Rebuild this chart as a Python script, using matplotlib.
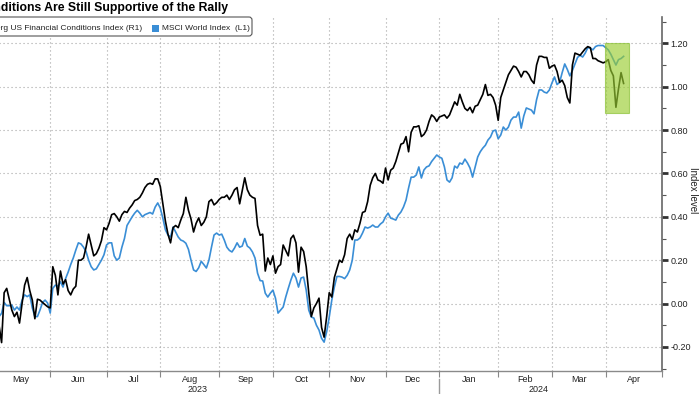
import numpy as np
import pandas as pd
import matplotlib
matplotlib.use("Agg")
import matplotlib.pyplot as plt
import matplotlib.transforms as mtransforms
from matplotlib.patches import Rectangle, FancyBboxPatch
from matplotlib.lines import Line2D
from matplotlib import font_manager as fm

# ---------------- data (daily, business days) ----------------
start_date = "2023-05-04"
title = "Financial Conditions Are Still Supportive of the Rally"
series_names = ["Bloomberg US Financial Conditions Index (R1)", "MSCI World Index  (L1)"]
y_label = "Index level"
y_ticks = [-0.2, 0.0, 0.2, 0.4, 0.6, 0.8, 1.0, 1.2]
year_labels = ["2023", "2024"]

fci = [
    -0.10, -0.18, 0.05, 0.07, 0.02, -0.03, -0.06, -0.04, -0.09, 0.00,
    0.085, 0.12, 0.06, 0.016, -0.07, 0.02, 0.016, 0.005, -0.005, -0.015,
    -0.02, 0.17, 0.13, 0.04, 0.15, 0.09, 0.11, 0.06, 0.04, 0.067,
    0.08, 0.20, 0.20, 0.21, 0.26, 0.32, 0.27, 0.22, 0.23, 0.255,
    0.29, 0.35, 0.34, 0.37, 0.41, 0.415, 0.40, 0.38, 0.41, 0.425,
    0.42, 0.44, 0.455, 0.475, 0.48, 0.49, 0.51, 0.535, 0.55, 0.555,
    0.55, 0.575, 0.575, 0.54, 0.46, 0.38, 0.32, 0.28, 0.35, 0.36,
    0.35, 0.385, 0.415, 0.49, 0.43, 0.39, 0.33, 0.37, 0.395, 0.36,
    0.375, 0.40, 0.47, 0.48, 0.455, 0.465, 0.48, 0.49, 0.49, 0.50,
    0.48, 0.50, 0.525, 0.535, 0.46, 0.52, 0.58, 0.525, 0.50, 0.49,
    0.485, 0.36, 0.315, 0.32, 0.15, 0.21, 0.18, 0.22, 0.14, 0.17,
    0.18, 0.27, 0.245, 0.22, 0.30, 0.315, 0.28, 0.145, 0.26, 0.24,
    0.17, 0.05, -0.06, -0.02, 0.00, 0.025, -0.11, -0.155, -0.06, 0.05,
    0.03, 0.12, 0.16, 0.20, 0.19, 0.225, 0.30, 0.32, 0.295, 0.34,
    0.33, 0.37, 0.42, 0.425, 0.47, 0.545, 0.58, 0.60, 0.57, 0.565,
    0.555, 0.625, 0.57, 0.615, 0.625, 0.655, 0.695, 0.735, 0.74, 0.77,
    0.70, 0.79, 0.815, 0.815, 0.82, 0.77, 0.78, 0.80, 0.84, 0.87,
    0.86, 0.84, 0.86, 0.865, 0.87, 0.855, 0.87, 0.90, 0.93, 0.915,
    0.965, 0.93, 0.90, 0.89, 0.905, 0.88, 0.91, 0.915, 0.94, 0.965,
    1.01, 0.96, 0.965, 0.95, 0.915, 0.845, 0.95, 0.985, 1.02, 1.055,
    1.075, 1.095, 1.09, 1.07, 1.045, 1.07, 1.07, 1.055, 1.03, 1.015,
    1.10, 1.14, 1.14, 1.135, 1.135, 1.085, 1.095, 1.10, 1.07, 1.02,
    1.03, 1.005, 0.95, 0.925, 1.10, 1.155, 1.15, 1.145, 1.16, 1.175,
    1.185, 1.18, 1.13, 1.13, 1.12, 1.115, 1.11, 1.115, 1.125, 1.075,
    1.05, 0.905, 0.99, 1.065, 1.015,
]

# MSCI World (L1) shown in the chart's right-axis scale
msci = [
    -0.06, -0.045, 0.005, -0.01, -0.01, -0.007, -0.03, -0.016, -0.03, 0.016,
    0.04, 0.032, 0.04, -0.02, -0.06, -0.06, -0.03, 0.005, 0.016, 0.002,
    -0.044, 0.07, 0.085, 0.08, 0.10, 0.076, 0.115, 0.145, 0.18, 0.21,
    0.247, 0.28, 0.275, 0.26, 0.24, 0.20, 0.17, 0.155, 0.16, 0.18,
    0.20, 0.225, 0.27, 0.28, 0.28, 0.22, 0.20, 0.21, 0.26, 0.30,
    0.36, 0.38, 0.40, 0.417, 0.43, 0.417, 0.40, 0.41, 0.415, 0.42,
    0.413, 0.445, 0.464, 0.44, 0.394, 0.34, 0.316, 0.307, 0.353, 0.33,
    0.307, 0.293, 0.288, 0.278, 0.25, 0.20, 0.155, 0.148, 0.165, 0.195,
    0.18, 0.164, 0.20, 0.26, 0.316, 0.325, 0.316, 0.32, 0.293, 0.26,
    0.245, 0.238, 0.256, 0.28, 0.26, 0.265, 0.30, 0.265, 0.256, 0.238,
    0.21, 0.14, 0.106, 0.104, 0.048, 0.03, 0.048, 0.062, 0.025, -0.044,
    -0.03, -0.016, 0.03, 0.07, 0.108, 0.14, 0.118, 0.076, 0.118, 0.122,
    0.062, -0.03, -0.062, -0.067, -0.10, -0.122, -0.16, -0.178, -0.13, -0.062,
    0.016, 0.076, 0.125, 0.125, 0.122, 0.115, 0.13, 0.155, 0.20, 0.293,
    0.293, 0.302, 0.325, 0.353, 0.348, 0.353, 0.362, 0.353, 0.353, 0.367,
    0.376, 0.40, 0.417, 0.394, 0.39, 0.385, 0.408, 0.422, 0.445, 0.477,
    0.533, 0.583, 0.583, 0.593, 0.63, 0.579, 0.616, 0.63, 0.635, 0.655,
    0.67, 0.685, 0.676, 0.67, 0.63, 0.57, 0.56, 0.58, 0.634, 0.625,
    0.648, 0.643, 0.666, 0.648, 0.625, 0.583, 0.63, 0.676, 0.70, 0.717,
    0.73, 0.754, 0.768, 0.796, 0.80, 0.76, 0.777, 0.814, 0.80, 0.814,
    0.846, 0.86, 0.86, 0.883, 0.809, 0.865, 0.902, 0.897, 0.892, 0.875,
    0.94, 0.985, 0.985, 0.975, 0.971, 0.985, 1.017, 1.045, 1.01, 1.02,
    1.065, 1.105, 1.08, 1.05, 1.075, 1.105, 1.135, 1.145, 1.137, 1.155,
    1.18, 1.178, 1.17, 1.185, 1.19, 1.19, 1.19, 1.18, 1.17, 1.15,
    1.125, 1.10, 1.125, 1.13, 1.14,
]

highlight_dates = ["2024-04-01", "2024-04-12"]
highlight_range = [0.879, 1.20]

# ---------------- helpers ----------------
def bidx(d):
    d = np.asarray(pd.to_datetime(d).values.astype("datetime64[D]"))
    return np.busday_count(np.datetime64(start_date), d)

def font_ok(name):
    try:
        fm.findfont(fm.FontProperties(family=name), fallback_to_default=False)
        return True
    except Exception:
        return False

NARROW = font_ok("Liberation Sans Narrow")
SANS = "Liberation Sans" if font_ok("Liberation Sans") else "DejaVu Sans"
SMALL = "Liberation Sans Narrow" if NARROW else SANS
small_size = 7.0 if NARROW else 6.0

plt.rcParams["font.family"] = [SANS, "DejaVu Sans"]

dates = pd.bdate_range(start_date, periods=len(fci))
x = bidx(dates)

W, H = 700, 394
fig = plt.figure(figsize=(W / 100, H / 100), dpi=100)
fig.patch.set_facecolor("white")

def fx(px):
    return px / W

def fy(py):
    return 1 - py / H

L, R, T, B = -45, 662, 17, 371
ax = fig.add_axes([fx(L), fy(B), fx(R) - fx(L), fy(T) - fy(B)])
XMIN, XMAX = -17.2, 249.6
ax.set_xlim(XMIN, XMAX)
ax.set_ylim(-0.311, 1.3215)

# lines
blue = "#3a8ed6"
ax.plot(x, msci, color=blue, lw=1.2, zorder=3, solid_joinstyle="round")
ax.plot(x, fci, color="black", lw=1.2, zorder=4, solid_joinstyle="round")

# highlight box
hx = bidx(highlight_dates)
ax.add_patch(Rectangle((hx[0] - 0.2, highlight_range[0]), (hx[1] - hx[0]) + 0.4,
                       highlight_range[1] - highlight_range[0],
                       facecolor="#9acd32", alpha=0.65, edgecolor="#86bf2e",
                       lw=0.8, zorder=6))

# y axis (right)
ax.yaxis.tick_right()
ax.set_yticks(y_ticks)
ax.set_yticklabels([f"{v:.2f}" for v in y_ticks])
ax.set_yticks(np.arange(-0.3, 1.31, 0.2), minor=True)
ax.tick_params(axis="y", which="major", length=4, width=2, color="#333333",
               labelsize=6.5, labelcolor="#222222", pad=2)
ax.tick_params(axis="y", which="minor", length=3, width=0.8, color="#555555")

# x axis: month boundaries + mid-month labels
months = pd.date_range("2023-05-01", "2024-05-01", freq="MS")
bounds = bidx(months)
mids = (bounds[:-1] + bounds[1:]) / 2
ax.set_xticks(bounds)
ax.set_xticklabels([""] * len(bounds))
ax.set_xticks(mids, minor=True)
ax.set_xticklabels([m.strftime("%b") for m in months[:-1]], minor=True)
ax.tick_params(axis="x", which="major", length=4, width=0.8, color="#888888")
ax.tick_params(axis="x", which="minor", length=0, labelsize=6.5,
               labelcolor="#222222", pad=3)

# grid
gstyle = dict(color="#a5a5a5", lw=0.8, linestyle=(0, (1.0, 2.6)))
ax.grid(axis="y", which="major", **gstyle)
ax.grid(axis="x", which="major", **gstyle)
ax.set_axisbelow(True)

for s in ["left", "top"]:
    ax.spines[s].set_visible(False)
ax.spines["right"].set_color("#666666")
ax.spines["right"].set_linewidth(1.2)
ax.spines["bottom"].set_color("#8a8a8a")
ax.spines["bottom"].set_linewidth(1.0)

# years
jan = bidx(["2024-01-01"])[0]
btr = mtransforms.blended_transform_factory(ax.transData, ax.transAxes)
ylab_axes = -(389 - B) / (B - T)
ax.text((XMIN + jan) / 2, ylab_axes, year_labels[0], transform=btr, ha="center",
        va="center", fontsize=6.5, color="#222222", clip_on=False)
ax.text((jan + XMAX) / 2, ylab_axes, year_labels[1], transform=btr, ha="center",
        va="center", fontsize=6.5, color="#222222", clip_on=False)
ax.add_line(Line2D([jan, jan], [-(379 - B) / (B - T), -(396 - B) / (B - T)],
                   transform=btr, color="#9a9a9a", lw=1.0, clip_on=False))

# y label
fig.text(fx(693), fy(190), y_label, rotation=270, ha="center", va="center",
         fontsize=7, color="#222222")

# title (cropped on the left like the reference)
fig.text(fx(228), fy(11.5), title, ha="right", va="baseline", fontsize=8.8,
         fontweight="bold", color="black")

# legend box (manual, cropped on the left)
ident = mtransforms.IdentityTransform()
fig.add_artist(FancyBboxPatch((-200, H - 36), 452, 19,
                              boxstyle="round,pad=0,rounding_size=3",
                              transform=ident, facecolor="white",
                              edgecolor="#555555", lw=0.8, zorder=10))
fig.add_artist(Rectangle((152, H - 32), 7, 7, transform=ident,
                         facecolor=blue, edgecolor="none", zorder=11))
t1 = fig.text(fx(142), fy(28.5), series_names[0], ha="right", va="center",
              fontsize=small_size, family=[SMALL, "DejaVu Sans"],
              color="#222222", zorder=11)
fig.text(fx(162), fy(28.5), series_names[1], ha="left", va="center",
         fontsize=small_size, family=[SMALL, "DejaVu Sans"], color="#222222",
         zorder=11)
fig.canvas.draw()
bb = t1.get_window_extent()
fig.add_artist(Rectangle((bb.x0 - 10, H - 32), 7, 7, transform=ident,
                         facecolor="black", edgecolor="none", zorder=11))

fig.savefig("out.png", dpi=100, facecolor="white")
